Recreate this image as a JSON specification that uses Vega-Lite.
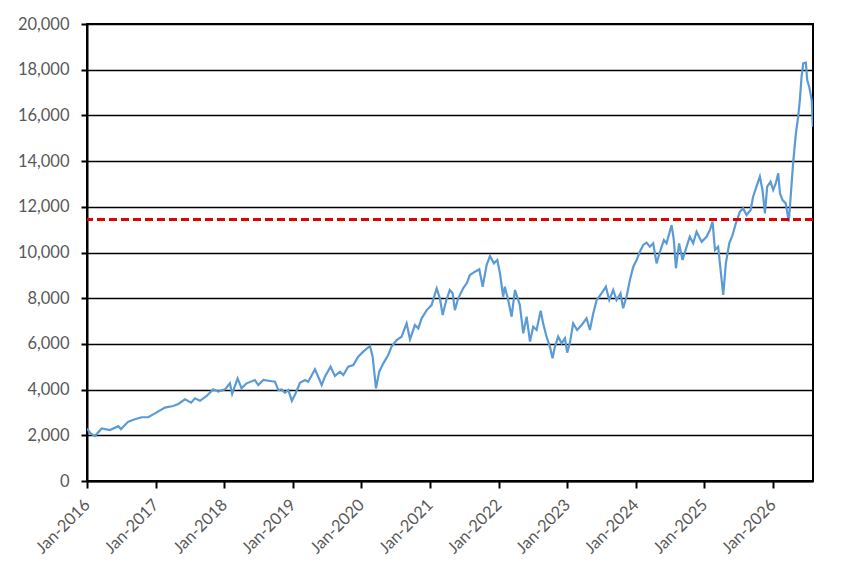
{
  "$schema": "https://vega.github.io/schema/vega-lite/v6.json",
  "autosize": "none",
  "width": 726,
  "height": 457,
  "padding": {"left": 87, "top": 24, "right": 41, "bottom": 95},
  "background": "white",
  "config": {
    "view": {"stroke": "#000000", "strokeWidth": 2},
    "font": "Lato"
  },
  "data": {"values": [
    {"d":"2016-01-01","v":2200},{"d":"2016-01-05","v":2250},{"d":"2016-01-20","v":2080},{"d":"2016-02-12","v":1970},{"d":"2016-03-19","v":2300},
    {"d":"2016-05-02","v":2230},{"d":"2016-06-16","v":2400},{"d":"2016-06-30","v":2270},{"d":"2016-08-08","v":2600},{"d":"2016-09-12","v":2700},
    {"d":"2016-10-18","v":2790},{"d":"2016-11-22","v":2790},{"d":"2016-12-28","v":2960},{"d":"2017-02-19","v":3210},{"d":"2017-04-04","v":3280},
    {"d":"2017-05-01","v":3370},{"d":"2017-06-06","v":3575},{"d":"2017-07-08","v":3430},{"d":"2017-07-29","v":3620},{"d":"2017-08-25","v":3510},
    {"d":"2017-09-29","v":3720},{"d":"2017-11-03","v":4010},{"d":"2017-11-30","v":3910},{"d":"2018-01-05","v":4010},{"d":"2018-01-31","v":4275},
    {"d":"2018-02-12","v":3810},{"d":"2018-03-13","v":4490},{"d":"2018-04-03","v":4055},{"d":"2018-04-30","v":4275},{"d":"2018-06-13","v":4420},
    {"d":"2018-07-01","v":4200},{"d":"2018-07-28","v":4420},{"d":"2018-09-01","v":4375},{"d":"2018-09-28","v":4345},{"d":"2018-10-16","v":3980},
    {"d":"2018-11-03","v":4010},{"d":"2018-11-20","v":3865},{"d":"2018-12-08","v":3980},{"d":"2018-12-27","v":3510},{"d":"2019-01-16","v":3840},
    {"d":"2019-02-08","v":4300},{"d":"2019-03-07","v":4420},{"d":"2019-03-24","v":4345},{"d":"2019-04-29","v":4890},{"d":"2019-06-04","v":4200},
    {"d":"2019-06-21","v":4565},{"d":"2019-07-21","v":5000},{"d":"2019-08-13","v":4595},{"d":"2019-09-09","v":4785},{"d":"2019-09-27","v":4640},
    {"d":"2019-10-23","v":5000},{"d":"2019-11-19","v":5075},{"d":"2019-12-15","v":5440},{"d":"2020-01-11","v":5660},{"d":"2020-02-16","v":5910},
    {"d":"2020-03-01","v":5440},{"d":"2020-03-19","v":4055},{"d":"2020-04-05","v":4785},{"d":"2020-04-27","v":5150},{"d":"2020-05-23","v":5515},
    {"d":"2020-06-10","v":5880},{"d":"2020-07-07","v":6170},{"d":"2020-08-02","v":6315},{"d":"2020-08-29","v":6900},{"d":"2020-09-16","v":6200},
    {"d":"2020-10-12","v":6825},{"d":"2020-10-30","v":6680},{"d":"2020-11-17","v":7120},{"d":"2020-12-14","v":7480},{"d":"2021-01-09","v":7700},
    {"d":"2021-02-05","v":8430},{"d":"2021-02-22","v":7995},{"d":"2021-03-09","v":7265},{"d":"2021-03-26","v":7845},{"d":"2021-04-16","v":8360},
    {"d":"2021-05-01","v":8215},{"d":"2021-05-13","v":7480},{"d":"2021-05-31","v":7995},{"d":"2021-06-26","v":8430},{"d":"2021-07-15","v":8650},
    {"d":"2021-08-01","v":9015},{"d":"2021-08-28","v":9160},{"d":"2021-09-20","v":9265},{"d":"2021-10-08","v":8500},{"d":"2021-10-29","v":9450},
    {"d":"2021-11-16","v":9845},{"d":"2021-12-07","v":9525},{"d":"2021-12-25","v":9670},{"d":"2022-01-08","v":9090},{"d":"2022-01-25","v":8065},
    {"d":"2022-02-03","v":8500},{"d":"2022-02-21","v":7920},{"d":"2022-03-11","v":7190},{"d":"2022-03-29","v":8360},{"d":"2022-04-24","v":7700},
    {"d":"2022-05-12","v":6460},{"d":"2022-05-30","v":7190},{"d":"2022-06-17","v":6100},{"d":"2022-07-04","v":6750},{"d":"2022-07-22","v":6610},
    {"d":"2022-08-13","v":7450},{"d":"2022-08-26","v":6900},{"d":"2022-09-13","v":6315},{"d":"2022-10-01","v":5880},{"d":"2022-10-15","v":5370},
    {"d":"2022-10-28","v":5880},{"d":"2022-11-14","v":6315},{"d":"2022-12-02","v":6025},{"d":"2022-12-20","v":6245},{"d":"2023-01-01","v":5615},
    {"d":"2023-01-15","v":6025},{"d":"2023-02-02","v":6900},{"d":"2023-02-23","v":6610},{"d":"2023-03-19","v":6825},{"d":"2023-04-14","v":7120},
    {"d":"2023-05-02","v":6610},{"d":"2023-05-20","v":7340},{"d":"2023-06-07","v":7920},{"d":"2023-07-03","v":8215},{"d":"2023-07-26","v":8500},
    {"d":"2023-08-13","v":7920},{"d":"2023-09-03","v":8360},{"d":"2023-09-21","v":7920},{"d":"2023-10-12","v":8215},{"d":"2023-10-26","v":7560},
    {"d":"2023-11-13","v":8065},{"d":"2023-12-01","v":8795},{"d":"2023-12-19","v":9380},{"d":"2024-01-06","v":9670},{"d":"2024-01-23","v":10035},
    {"d":"2024-02-10","v":10330},{"d":"2024-02-28","v":10430},{"d":"2024-03-16","v":10255},{"d":"2024-04-03","v":10400},{"d":"2024-04-21","v":9525},
    {"d":"2024-05-12","v":10110},{"d":"2024-05-30","v":10545},{"d":"2024-06-13","v":10400},{"d":"2024-07-10","v":11200},{"d":"2024-07-22","v":10545},
    {"d":"2024-08-02","v":9310},{"d":"2024-08-19","v":10400},{"d":"2024-09-06","v":9670},{"d":"2024-09-28","v":10255},{"d":"2024-10-15","v":10690},
    {"d":"2024-11-02","v":10400},{"d":"2024-11-20","v":10910},{"d":"2024-12-17","v":10470},{"d":"2025-01-12","v":10690},{"d":"2025-01-30","v":10985},
    {"d":"2025-02-13","v":11350},{"d":"2025-02-26","v":10110},{"d":"2025-03-15","v":10255},{"d":"2025-03-28","v":9230},{"d":"2025-04-11","v":8140},
    {"d":"2025-04-25","v":9525},{"d":"2025-05-13","v":10400},{"d":"2025-05-31","v":10765},{"d":"2025-06-17","v":11275},{"d":"2025-07-09","v":11785},
    {"d":"2025-07-26","v":11930},{"d":"2025-08-13","v":11640},{"d":"2025-09-04","v":11860},{"d":"2025-09-17","v":12440},{"d":"2025-10-05","v":12880},
    {"d":"2025-10-23","v":13320},{"d":"2025-11-06","v":12735},{"d":"2025-11-19","v":11715},{"d":"2025-12-01","v":12880},{"d":"2025-12-19","v":13100},
    {"d":"2026-01-02","v":12735},{"d":"2026-01-16","v":13030},{"d":"2026-01-29","v":13465},{"d":"2026-02-07","v":12590},{"d":"2026-02-21","v":12295},
    {"d":"2026-03-10","v":12150},{"d":"2026-03-26","v":11350},{"d":"2026-04-05","v":12440},{"d":"2026-04-18","v":13900},{"d":"2026-05-03","v":15215},
    {"d":"2026-05-15","v":15940},{"d":"2026-05-24","v":16670},{"d":"2026-06-02","v":17690},{"d":"2026-06-11","v":18280},{"d":"2026-06-25","v":18310},
    {"d":"2026-07-02","v":17550},{"d":"2026-07-13","v":17255},{"d":"2026-07-26","v":16670},{"d":"2026-08-01","v":15500}
  ]},
  "layer": [
    {
      "mark": {"type": "line", "color": "#5B9BD5", "strokeWidth": 2.2, "clip": true},
      "encoding": {
        "x": {
          "field": "d", "type": "temporal",
          "scale": {"type": "utc", "domain": [{"year": 2016, "month": 1, "date": 1, "utc": true}, {"year": 2026, "month": 8, "date": 2, "utc": true}], "nice": false},
          "axis": {
            "title": null,
            "labelExpr": "utcFormat(datum.value, '%b-%Y')",
            "values": [
              {"year":2016,"month":1,"date":1,"utc":true},{"year":2017,"month":1,"date":1,"utc":true},{"year":2018,"month":1,"date":1,"utc":true},
              {"year":2019,"month":1,"date":1,"utc":true},{"year":2020,"month":1,"date":1,"utc":true},{"year":2021,"month":1,"date":1,"utc":true},
              {"year":2022,"month":1,"date":1,"utc":true},{"year":2023,"month":1,"date":1,"utc":true},{"year":2024,"month":1,"date":1,"utc":true},
              {"year":2025,"month":1,"date":1,"utc":true},{"year":2026,"month":1,"date":1,"utc":true}
            ],
            "labelAngle": -45, "labelFont": "Lato", "labelFontSize": 16.5, "labelColor": "#595959",
            "labelAlign": "right", "labelBaseline": "middle", "labelPadding": 14,
            "domainColor": "#000000", "domainWidth": 2, "tickColor": "#000000", "tickWidth": 2, "tickSize": 7,
            "grid": false, "labelFlush": false, "labelOverlap": false
          }
        },
        "y": {
          "field": "v", "type": "quantitative",
          "scale": {"domain": [0, 20000], "nice": false},
          "axis": {
            "title": null,
            "labelExpr": "format(datum.value, ',.0f')",
            "values": [0,2000,4000,6000,8000,10000,12000,14000,16000,18000,20000],
            "labelFont": "Lato", "labelFontSize": 16.5, "labelColor": "#595959", "labelPadding": 12,
            "domainColor": "#000000", "domainWidth": 2, "tickColor": "#000000", "tickWidth": 2, "tickSize": 6,
            "grid": true, "gridColor": "#000000", "gridWidth": 1.6
          }
        }
      }
    },
    {
      "mark": {"type": "rule", "color": "#E30000", "strokeWidth": 2.5, "strokeDash": [8, 4]},
      "encoding": {"y": {"datum": 11450}}
    }
  ]
}
